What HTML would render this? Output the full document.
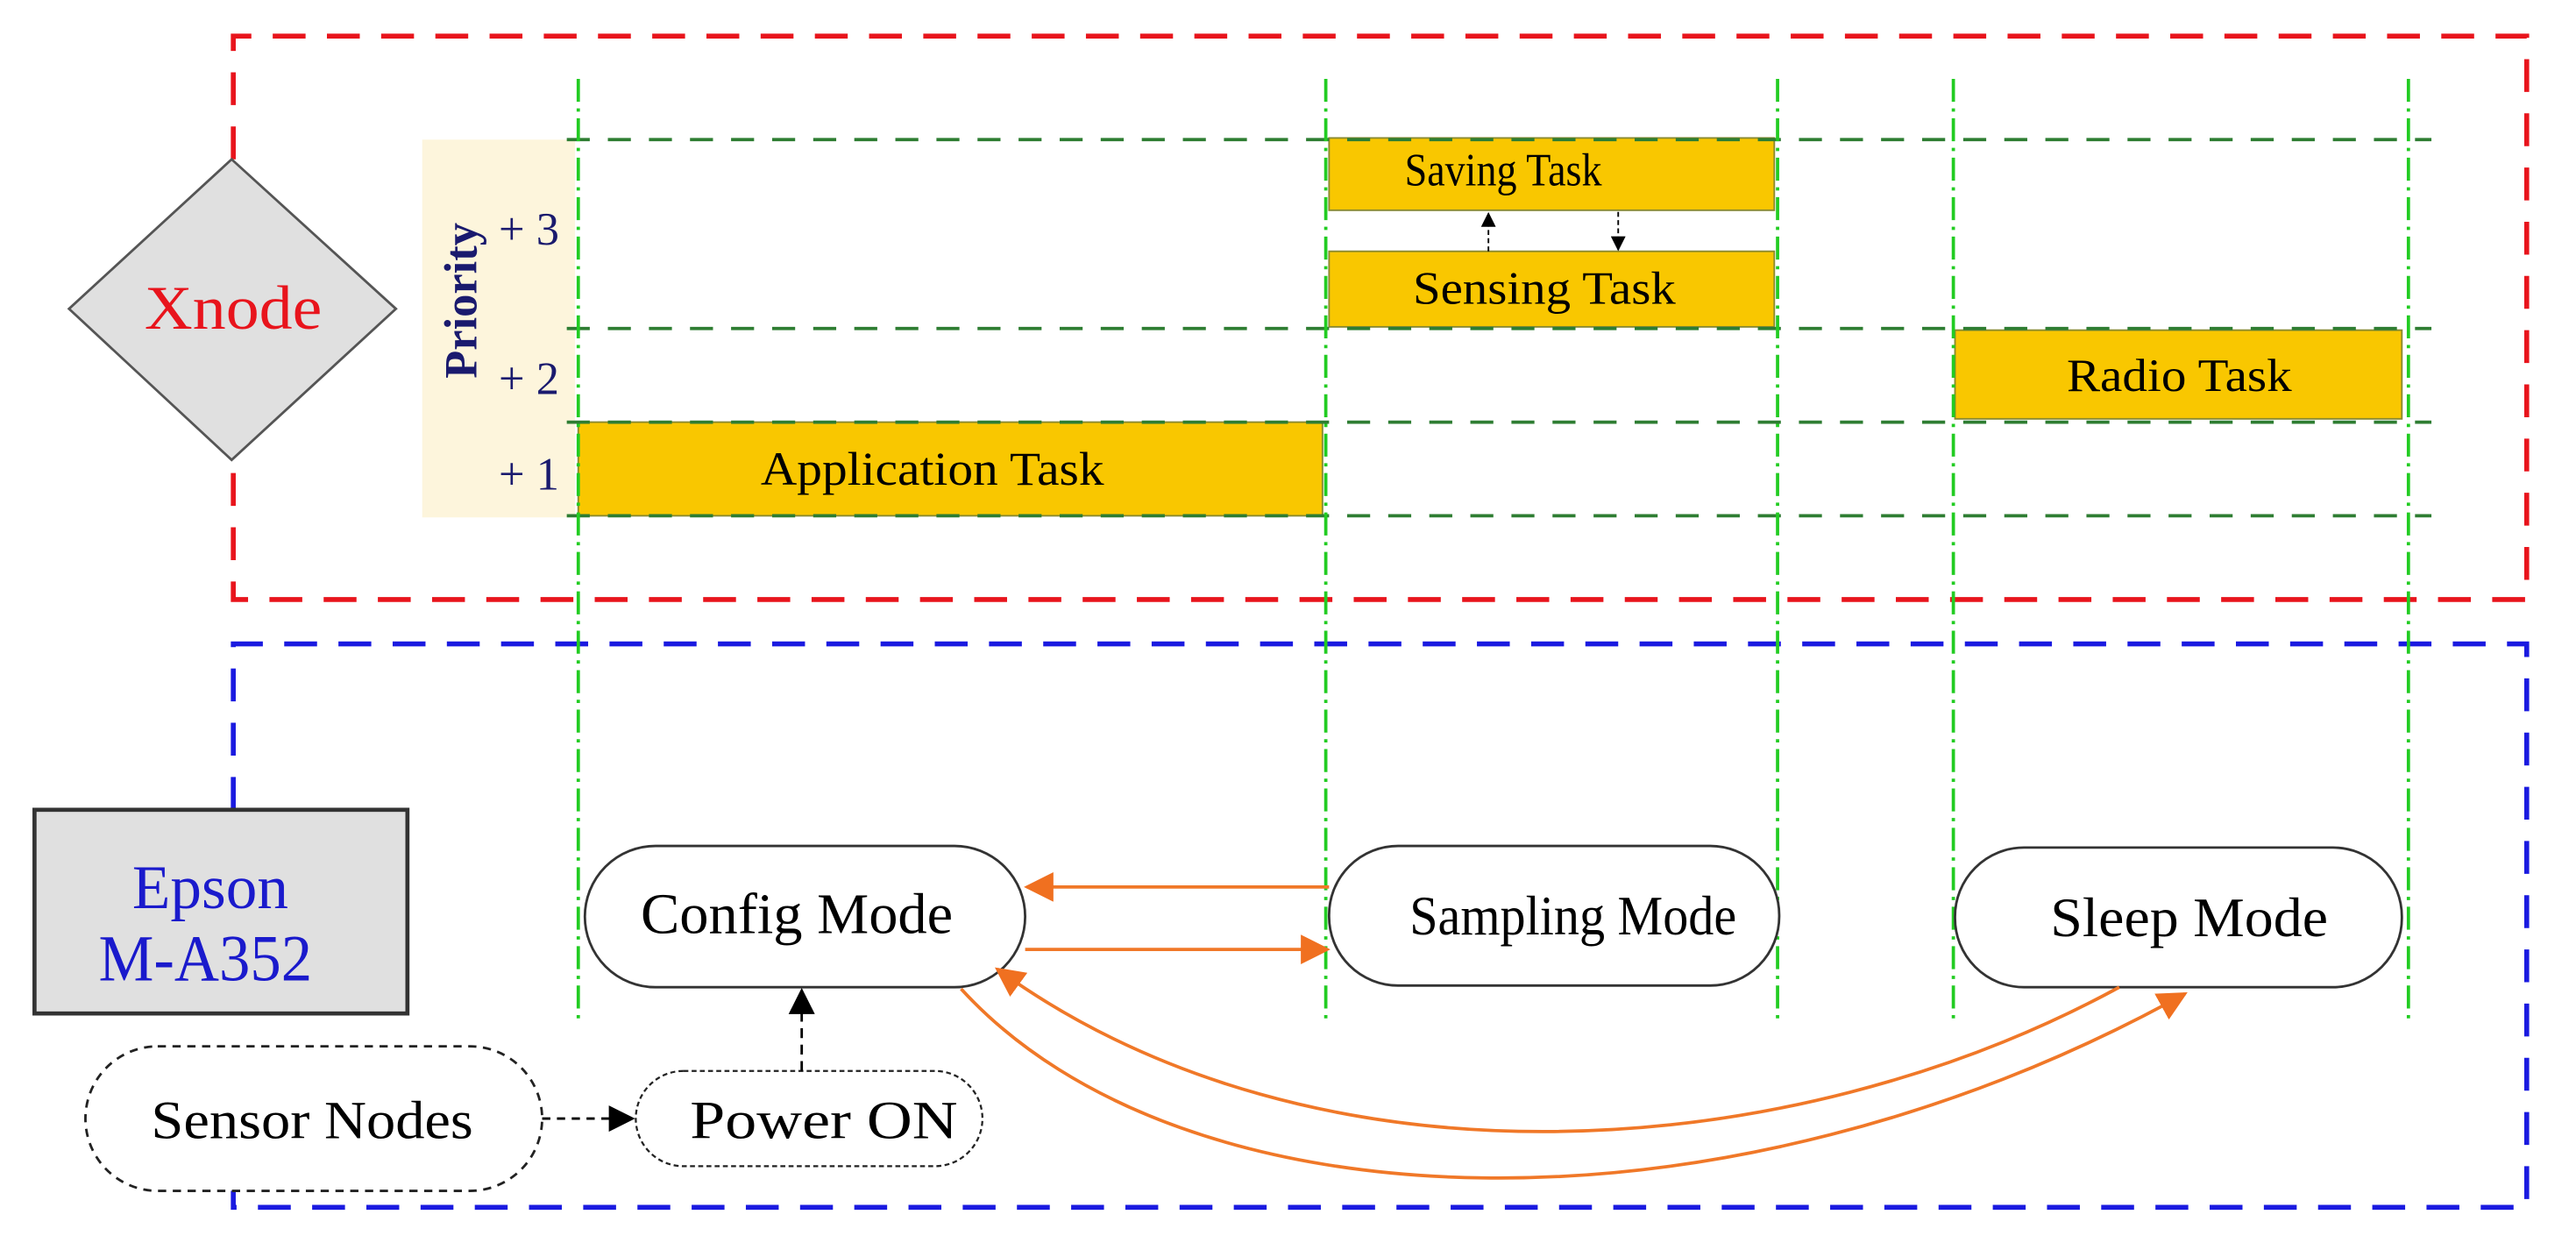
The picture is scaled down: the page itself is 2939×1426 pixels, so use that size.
<!DOCTYPE html>
<html><head><meta charset="utf-8"><style>
html,body{margin:0;padding:0;background:#fff;}
svg{display:block;}
text{font-family:"Liberation Serif",serif;}
</style></head><body>
<svg width="2939" height="1426" viewBox="0 0 1568 761" preserveAspectRatio="none" xmlns="http://www.w3.org/2000/svg">
<defs>
<marker id="oa" viewBox="0 0 10 10" markerWidth="18" markerHeight="18" refX="9" refY="5" orient="auto" markerUnits="userSpaceOnUse"><path d="M0,0 L10,5 L0,10 z" fill="#f07020"/></marker>
<marker id="ka" viewBox="0 0 10 10" markerWidth="16" markerHeight="16" refX="9" refY="5" orient="auto" markerUnits="userSpaceOnUse"><path d="M0,0 L10,5 L0,10 z" fill="#000"/></marker>
<marker id="ks" viewBox="0 0 10 10" markerWidth="9" markerHeight="9" refX="9" refY="5" orient="auto" markerUnits="userSpaceOnUse"><path d="M0,0 L10,5 L0,10 z" fill="#000"/></marker>
</defs>

<rect x="257" y="85" width="93" height="230" fill="#fdf5dc"/>

<path d="M142,97 L142,22 L1538,22 L1538,365 L142,365 L142,282" fill="none" stroke="#e8141c" stroke-width="3" stroke-dasharray="20,13"/>
<path d="M142,493 L142,392 L1538,392 L1538,735 L142,735 L142,722" fill="none" stroke="#1a1ae0" stroke-width="3" stroke-dasharray="20,13"/>

<rect x="352" y="257" width="453" height="57" fill="#f9c700" stroke="#8a8a30" stroke-width="1"/>
<rect x="809" y="84" width="271" height="44" fill="#f9c700" stroke="#8a8a30" stroke-width="1"/>
<rect x="809" y="153" width="271" height="46" fill="#f9c700" stroke="#8a8a30" stroke-width="1"/>
<rect x="1190" y="201" width="272" height="54" fill="#f9c700" stroke="#8a8a30" stroke-width="1"/>

<g stroke="#2e7d32" stroke-width="2" stroke-dasharray="14,11" fill="none">
<line x1="345" y1="85" x2="1480" y2="85"/>
<line x1="345" y1="200" x2="1480" y2="200"/>
<line x1="345" y1="257" x2="1480" y2="257"/>
<line x1="345" y1="314" x2="1480" y2="314"/>
</g>
<g stroke="#22cc22" stroke-width="2" stroke-dasharray="14,4,2,4" fill="none">
<line x1="352" y1="48" x2="352" y2="620"/>
<line x1="807" y1="48" x2="807" y2="620"/>
<line x1="1082" y1="48" x2="1082" y2="620"/>
<line x1="1189" y1="48" x2="1189" y2="620"/>
<line x1="1466" y1="48" x2="1466" y2="620"/>
</g>

<line x1="906" y1="153" x2="906" y2="130" stroke="#000" stroke-width="1" stroke-dasharray="3,2" marker-end="url(#ks)"/>
<line x1="985" y1="129" x2="985" y2="152" stroke="#000" stroke-width="1" stroke-dasharray="3,2" marker-end="url(#ks)"/>

<text x="463" y="295" font-size="29" textLength="209" lengthAdjust="spacingAndGlyphs">Application Task</text>
<text x="855" y="113" font-size="28" textLength="120" lengthAdjust="spacingAndGlyphs">Saving Task</text>
<text x="860" y="185" font-size="28" textLength="160" lengthAdjust="spacingAndGlyphs">Sensing Task</text>
<text x="1258" y="238" font-size="28" textLength="137" lengthAdjust="spacingAndGlyphs">Radio Task</text>

<text transform="translate(290,183) rotate(-90)" font-size="28" font-weight="bold" fill="#1a1a6e" text-anchor="middle">Priority</text>
<text x="322" y="149" font-size="28" fill="#1a1a6e" text-anchor="middle">+ 3</text>
<text x="322" y="240" font-size="28" fill="#1a1a6e" text-anchor="middle">+ 2</text>
<text x="322" y="298" font-size="28" fill="#1a1a6e" text-anchor="middle">+ 1</text>

<polygon points="141,97 241,188 141,280 42,188" fill="#e0e0e0" stroke="#555" stroke-width="1.5"/>
<text x="88" y="200" font-size="38" fill="#e8141c" textLength="108" lengthAdjust="spacingAndGlyphs">Xnode</text>

<rect x="21" y="493" width="227" height="124" fill="#e0e0e0" stroke="#333" stroke-width="2.5"/>
<text x="128" y="553" font-size="38" fill="#1a1acc" text-anchor="middle">Epson</text>
<text x="60" y="597" font-size="40" fill="#1a1acc" textLength="130" lengthAdjust="spacingAndGlyphs">M-A352</text>

<rect x="356" y="515" width="268" height="86" rx="43" fill="#fff" stroke="#333" stroke-width="1.5"/>
<text x="390" y="568" font-size="35" textLength="190" lengthAdjust="spacingAndGlyphs">Config Mode</text>
<rect x="809" y="515" width="274" height="85" rx="42" fill="#fff" stroke="#333" stroke-width="1.5"/>
<text x="858" y="569" font-size="34" textLength="199" lengthAdjust="spacingAndGlyphs">Sampling Mode</text>
<rect x="1190" y="516" width="272" height="85" rx="42" fill="#fff" stroke="#333" stroke-width="1.5"/>
<text x="1248" y="570" font-size="34" textLength="169" lengthAdjust="spacingAndGlyphs">Sleep Mode</text>

<g stroke="#f07828" stroke-width="2" fill="none">
<line x1="809" y1="540" x2="625" y2="540" marker-end="url(#oa)"/>
<line x1="624" y1="578" x2="808" y2="578" marker-end="url(#oa)"/>
<path d="M1290,601 C1090,710 800,730 607,590" marker-end="url(#oa)"/>
<path d="M585,602 C720,750 1050,760 1330,605" marker-end="url(#oa)"/>
</g>

<rect x="52" y="637" width="278" height="88" rx="44" fill="#fff" stroke="#222" stroke-width="1.5" stroke-dasharray="5,4"/>
<text x="92" y="693" font-size="33" textLength="196" lengthAdjust="spacingAndGlyphs">Sensor Nodes</text>
<rect x="387" y="652" width="211" height="58" rx="29" fill="#fff" stroke="#222" stroke-width="1.2" stroke-dasharray="3,2"/>
<text x="420" y="693" font-size="33" textLength="163" lengthAdjust="spacingAndGlyphs">Power ON</text>
<line x1="330" y1="681" x2="385" y2="681" stroke="#000" stroke-width="1.5" stroke-dasharray="5,4" marker-end="url(#ka)"/>
<line x1="488" y1="652" x2="488" y2="603" stroke="#000" stroke-width="1.5" stroke-dasharray="6,4" marker-end="url(#ka)"/>
</svg>
</body></html>
